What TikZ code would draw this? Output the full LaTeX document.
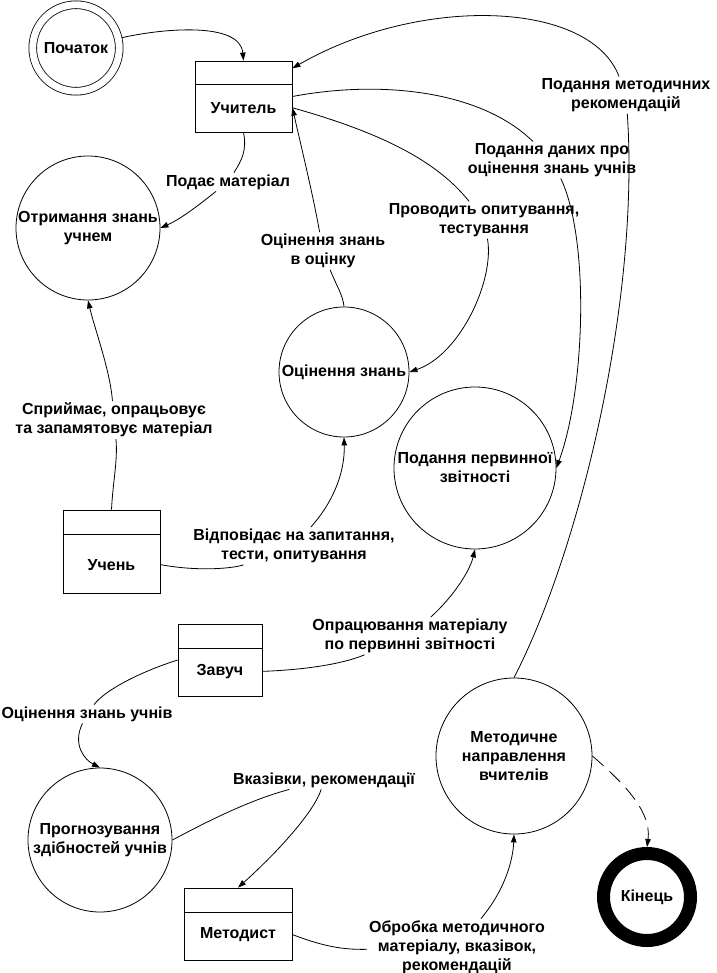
\documentclass[tikz,border=0pt]{standalone}
\usepackage{fontspec}
\setmainfont{Liberation Sans}
\usetikzlibrary{arrows.meta}
\begin{document}
\begin{tikzpicture}[x=1pt,y=-1pt,
  line width=0.8pt,
  every node/.style={font=\fontsize{16}{19}\selectfont\bfseries, align=center},
  proc/.style={circle, draw, inner sep=0pt},
  ent/.style={rectangle, draw, inner sep=0pt},
  lbl/.style={fill=white, inner sep=1.5pt},
  flow/.style={-{Triangle[length=8pt,width=5.5pt]}},
  dashflow/.style={flow, dash pattern=on 15pt off 8pt},
]
\useasboundingbox (0,0) rectangle (716,973);

% processes and entities
\node[proc, minimum size=86.5, double, double distance=6.9pt, outer sep=3.9pt] (start) at (76,48) {Початок};

\node[ent, minimum width=97, minimum height=71] (uch) at (243.5,96.5) {};
\draw (uch.west |- 0,84) -- (uch.east |- 0,84);
\node (uchT) at (243.5,108) {Учитель};

\node[proc, minimum size=144] (otr) at (88,228) {Отримання знань\\учнем};
\node[proc, minimum size=130] (ocin) at (344,372) {Оцінення знань};
\node[proc, minimum size=162] (pod) at (475,468) {Подання первинної\\звітності};

\node[ent, minimum width=97, minimum height=83] (uchen) at (111.5,551.5) {};
\draw (uchen.west |- 0,534) -- (uchen.east |- 0,534);
\node (uchenT) at (111.5,565) {Учень};

\node[ent, minimum width=84, minimum height=72] (zav) at (220,660) {};
\draw (zav.west |- 0,648) -- (zav.east |- 0,648);
\node (zavT) at (220,672) {Завуч};

\node[proc, minimum size=144] (prog) at (100,840) {Прогнозування\\здібностей учнів};

\node[ent, minimum width=108, minimum height=72] (met) at (238,924) {};
\draw (met.west |- 0,912) -- (met.east |- 0,912);
\node (metT) at (238,935) {Методист};

\node[proc, minimum size=156] (mnv) at (514,756) {Методичне\\направлення\\вчителів};
\node[proc, minimum size=87, line width=13pt] (kin) at (647,897) {Кінець};

% labels
\node[lbl] (l1) at (228,182) {Подає матеріал};
\node[lbl] (l2) at (114,420) {Сприймає, опрацьовує\\та запамятовує матеріал};
\node[lbl] (l3) at (323,251) {Оцінення знань\\в оцінку};
\node[lbl] (l4) at (484,220) {Проводить опитування,\\тестування};
\node[lbl] (l5) at (552,160) {Подання даних про\\оцінення знань учнів};
\node[lbl] (l6) at (626,95) {Подання методичних\\рекомендацій};
\node[lbl] (l7) at (294,546) {Відповідає на запитання,\\тести, опитування};
\node[lbl] (l8) at (410,636) {Опрацювання матеріалу\\по первинні звітності};
\node[lbl] (l9) at (87,714) {Оцінення знань учнів};
\node[lbl] (l10) at (324,780) {Вказівки, рекомендації};
\node[lbl] (l11) at (457,947) {Обробка методичного\\матеріалу, вказівок,\\рекомендацій};

% connectors
\draw[flow] (start) .. controls (165,28) and (240,22) .. (uch.north);

\draw (uch.south) .. controls (247,150) and (242,160) .. (l1);
\draw[flow] (l1) .. controls (205,200) and (183,218) .. (otr.east);

\draw (uchen.north) .. controls (113,480) and (118,460) .. (l2);
\draw[flow] (l2) .. controls (110,370) and (95,330) .. (otr.south);

\draw (ocin.north) .. controls (343,295) and (336,285) .. (l3);
\draw[flow] (l3) .. controls (313,195) and (302,150) .. (uch.-13);

\draw (uch.-13) .. controls (390,135) and (440,165) .. (l4);
\draw[flow] (l4) .. controls (495,280) and (460,355) .. (ocin.east);

\draw (uch.east) .. controls (380,80) and (480,90) .. (l5);
\draw[flow] (l5) .. controls (590,240) and (585,390) .. (pod.east);

\draw (mnv.north) .. controls (580,550) and (640,300) .. (l6);
\draw[flow] (l6) .. controls (590,0) and (420,-5) .. (uch.30);

\draw (uchen.-15) .. controls (200,572) and (235,568) .. (l7);
\draw[flow] (l7) .. controls (335,500) and (345,470) .. (ocin.south);

\draw (zav.-15) .. controls (300,670) and (340,665) .. (l8);
\draw[flow] (l8) .. controls (455,595) and (470,570) .. (pod.south);

\draw (zav.west) .. controls (140,672) and (105,690) .. (l9);
\draw[flow] (l9) .. controls (72,745) and (85,760) .. (prog.north);

\draw (prog.east) .. controls (210,820) and (250,800) .. (l10);
\draw[flow] (l10) .. controls (315,810) and (280,850) .. (met.north);

\draw (met.-11) .. controls (320,945) and (340,950) .. (l11);
\draw[flow] (l11) .. controls (505,890) and (513,860) .. (mnv.south);

\draw[dashflow] (mnv.east) .. controls (620,780) and (652,810) .. (kin.north);
\end{tikzpicture}
\end{document}
